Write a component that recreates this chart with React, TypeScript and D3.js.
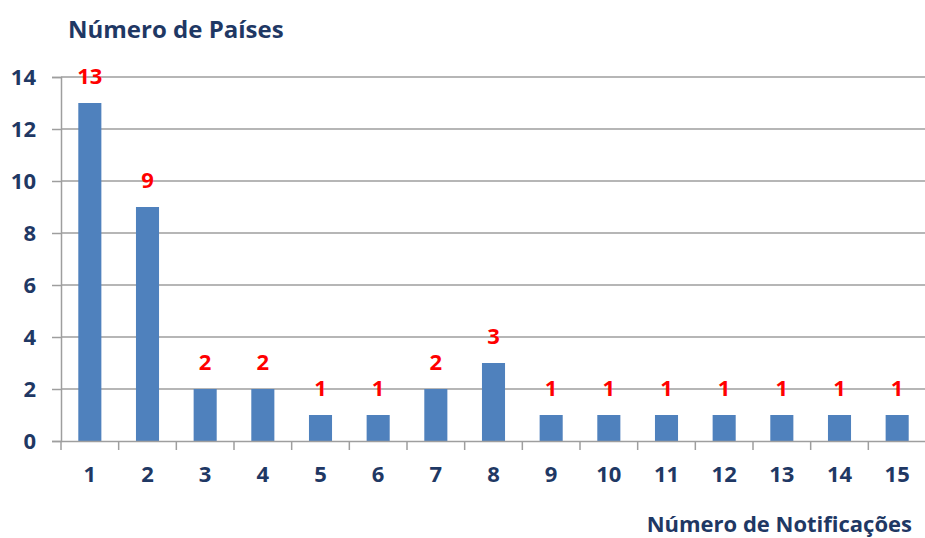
import React, { useEffect, useRef } from "react";
import * as d3 from "d3";

const notificacoes = ["1", "2", "3", "4", "5", "6", "7", "8", "9", "10", "11", "12", "13", "14", "15"];
const paises = [13, 9, 2, 2, 1, 1, 2, 3, 1, 1, 1, 1, 1, 1, 1];
const yTicks = [0, 2, 4, 6, 8, 10, 12, 14];

const App: React.FC = () => {
  const svgRef = useRef<SVGSVGElement | null>(null);

  useEffect(() => {
    const width = 925, height = 538;
    const svg = d3.select(svgRef.current).attr("width", width).attr("height", height);
    svg.selectAll("*").remove();

    const left = 61, right = 926, top = 77, bottom = 441;
    const font = "'Open Sans', sans-serif";
    const navy = "#1F3864";
    const grid = "#9E9E9E";

    const x = d3.scaleBand().domain(notificacoes).range([left, right]).paddingInner(0.6).paddingOuter(0.3);
    const xBand = d3.scaleBand().domain(notificacoes).range([left, right]);
    const y = d3.scaleLinear().domain([0, 14]).range([bottom, top]);

    // gridlines
    svg.append("g")
      .selectAll("line")
      .data(yTicks.filter(t => t > 0))
      .join("line")
      .attr("x1", left).attr("x2", width)
      .attr("y1", d => y(d)).attr("y2", d => y(d))
      .attr("stroke", grid).attr("stroke-width", 1.5);

    // bars
    svg.append("g")
      .selectAll("rect")
      .data(paises)
      .join("rect")
      .attr("x", (_, i) => x(notificacoes[i])!)
      .attr("y", d => y(d))
      .attr("width", x.bandwidth())
      .attr("height", d => bottom - y(d))
      .attr("fill", "#4F81BD");

    // value labels
    svg.append("g")
      .selectAll("text")
      .data(paises)
      .join("text")
      .attr("x", (_, i) => x(notificacoes[i])! + x.bandwidth() / 2)
      .attr("y", d => y(d) - 19)
      .attr("text-anchor", "middle")
      .attr("font-family", font)
      .attr("font-weight", "bold")
      .attr("font-size", 22)
      .attr("fill", "#FF0000")
      .text(d => d);

    // y axis
    const yAxis = svg.append("g").attr("transform", `translate(${left},0)`)
      .call(d3.axisLeft(y).tickValues(yTicks).tickSize(9).tickPadding(16));
    yAxis.select(".domain").attr("stroke", grid).attr("stroke-width", 1.5);
    yAxis.selectAll(".tick line").attr("stroke", grid).attr("stroke-width", 1.5);
    yAxis.selectAll(".tick text")
      .attr("font-family", font).attr("font-weight", "bold").attr("font-size", 22).attr("fill", navy);

    // x axis
    const xAxis = svg.append("g").attr("transform", `translate(0,${bottom})`)
      .call(d3.axisBottom(xBand).tickSize(0).tickPadding(25));
    xAxis.select(".domain").attr("stroke", grid).attr("stroke-width", 1.5);
    xAxis.selectAll(".tick text")
      .attr("font-family", font).attr("font-weight", "bold").attr("font-size", 22).attr("fill", navy);
    xAxis.selectAll("line.sep")
      .data(notificacoes)
      .join("line")
      .attr("class", "sep")
      .attr("x1", d => xBand(d)!).attr("x2", d => xBand(d)!)
      .attr("y1", 0).attr("y2", 9)
      .attr("stroke", grid).attr("stroke-width", 1.5);

    // titles
    svg.append("text")
      .attr("x", 68).attr("y", 38)
      .attr("font-family", font).attr("font-weight", "bold").attr("font-size", 24)
      .attr("fill", navy)
      .text("Número de Países");

    svg.append("text")
      .attr("x", 912).attr("y", 532)
      .attr("text-anchor", "end")
      .attr("font-family", font).attr("font-weight", "bold").attr("font-size", 22)
      .attr("fill", navy)
      .text("Número de Notificações");
  }, []);

  return <svg ref={svgRef} style={{ position: "absolute", left: 0, top: 0 }}></svg>;
};

export default App;
